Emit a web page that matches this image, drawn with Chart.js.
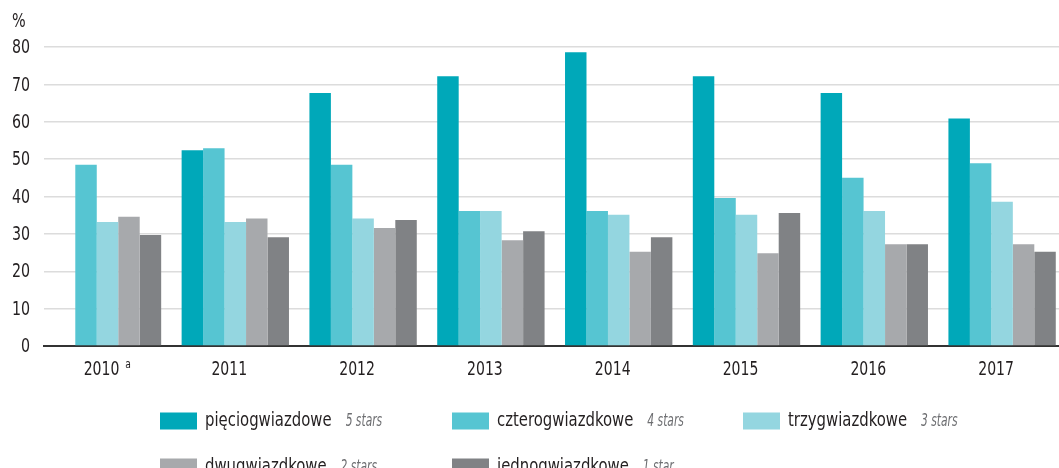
<!DOCTYPE html>
<html>
<head>
<meta charset="utf-8">
<script src="https://cdn.jsdelivr.net/npm/chart.js@4/dist/chart.umd.min.js"></script>
<style>
  html, body { margin: 0; padding: 0; background: #fff; overflow: hidden; }
  #wrap { position: absolute; left: 0; top: 0; width: 1070px; height: 468px; }
</style>
</head>
<body>
<div id="wrap"><canvas id="chart"></canvas></div>
<script>
// Categories and series (share of rooms used, %)
const years = ['2010', '2011', '2012', '2013', '2014', '2015', '2016', '2017'];
const yearNotes = ['a', '', '', '', '', '', '', ''];
const yTicks = [0, 10, 20, 30, 40, 50, 60, 70, 80];

const fiveStars  = [null, 52.4, 67.7, 72.2, 78.6, 72.2, 67.7, 60.9];
const fourStars  = [48.5, 52.9, 48.5, 36.1, 36.1, 39.6, 45.0, 48.9];
const threeStars = [33.2, 33.2, 34.1, 36.1, 35.1, 35.1, 36.1, 38.6];
const twoStars   = [34.6, 34.1, 31.6, 28.3, 25.2, 24.8, 27.2, 27.2];
const oneStar    = [29.7, 29.1, 33.7, 30.7, 29.1, 35.6, 27.2, 25.2];

const seriesNames = ['pięciogwiazdowe', 'czterogwiazdkowe', 'trzygwiazdkowe', 'dwugwiazdkowe', 'jednogwiazdkowe'];
const seriesNotes = ['5 stars', '4 stars', '3 stars', '2 stars', '1 star'];
const seriesColors = ['#00a8b9', '#56c5d2', '#94d6e0', '#a7a9ac', '#808285'];

const FONT = '"DejaVu Sans Condensed", "DejaVu Sans", sans-serif';
const TEXT = '#231f20';

// draw text squeezed horizontally (the original uses a condensed face)
function narrowText(ctx, str, x, y, font, sx, align) {
    ctx.save();
    ctx.font = font;
    const w = ctx.measureText(str).width * sx;
    let left = x;
    if (align === 'right') left = x - w;
    if (align === 'center') left = x - w / 2;
    ctx.translate(left, y);
    ctx.scale(sx, 1);
    ctx.textAlign = 'left';
    ctx.fillText(str, 0, 0);
    ctx.restore();
    return w;
}

// Tick labels, unit and legend
const textPlugin = {
    id: 'condensedText',
    afterDraw(chart) {
        const ctx = chart.ctx;
        const xs = chart.scales.x;
        const ys = chart.scales.y;
        ctx.save();
        ctx.fillStyle = TEXT;
        ctx.textBaseline = 'middle';

        yTicks.forEach(v => {
            narrowText(ctx, String(v), 30, ys.getPixelForValue(v) + 1, '20px ' + FONT, 0.79, 'right');
        });

        years.forEach((yr, i) => {
            const cx = xs.getPixelForValue(i) - 6;
            const w = narrowText(ctx, yr, cx, 370, '20px ' + FONT, 0.78, 'center');
            if (yearNotes[i]) {
                narrowText(ctx, yearNotes[i], cx + w / 2 + 6, 365, '12px ' + FONT, 0.85, 'left');
            }
        });

        ctx.textBaseline = 'alphabetic';
        narrowText(ctx, '%', 12, 27, '20px ' + FONT, 0.8, 'left');

        // legend: two rows of three
        const cols = [160, 452, 743];
        const rows = [421, 467];
        ctx.textBaseline = 'middle';
        chart.data.datasets.forEach((ds, i) => {
            const x = cols[i % 3];
            const y = rows[Math.floor(i / 3)];
            ctx.fillStyle = ds.backgroundColor;
            ctx.fillRect(x, y - 8.5, 37, 17);
            ctx.fillStyle = TEXT;
            const w = narrowText(ctx, ds.label, x + 45, y, '19px ' + FONT, 0.87, 'left');
            ctx.fillStyle = '#6d6e71';
            narrowText(ctx, seriesNotes[i], x + 45 + w + 14, y + 1, 'italic 17px ' + FONT, 0.7, 'left');
        });
        ctx.restore();
    }
};

const allSeries = [fiveStars, fourStars, threeStars, twoStars, oneStar];

new Chart(document.getElementById('chart'), {
    type: 'bar',
    data: {
        labels: years,
        datasets: allSeries.map((values, i) => ({
            label: seriesNames[i],
            data: values,
            backgroundColor: seriesColors[i],
            borderWidth: 0,
            categoryPercentage: 0.84,
            barPercentage: 1.0
        }))
    },
    options: {
        responsive: true,
        maintainAspectRatio: false,
        animation: false,
        layout: {
            padding: { top: 47, right: 4, bottom: 82, left: 0 }
        },
        plugins: {
            legend: { display: false },
            tooltip: { enabled: false }
        },
        scales: {
            x: {
                grid: { display: false, drawTicks: false },
                border: { display: true, color: '#333333', width: 2 },
                ticks: { display: false },
                afterFit(scale) { scale.height = 40; }
            },
            y: {
                min: 0,
                max: 80,
                afterBuildTicks(scale) {
                    scale.ticks = yTicks.map(v => ({ value: v }));
                },
                grid: {
                    color: '#dcdcdc',
                    lineWidth: 1.5,
                    drawTicks: false
                },
                border: { display: false },
                ticks: { display: false },
                afterFit(scale) { scale.width = 43.6; }
            }
        }
    },
    plugins: [textPlugin]
});
</script>
</body>
</html>
